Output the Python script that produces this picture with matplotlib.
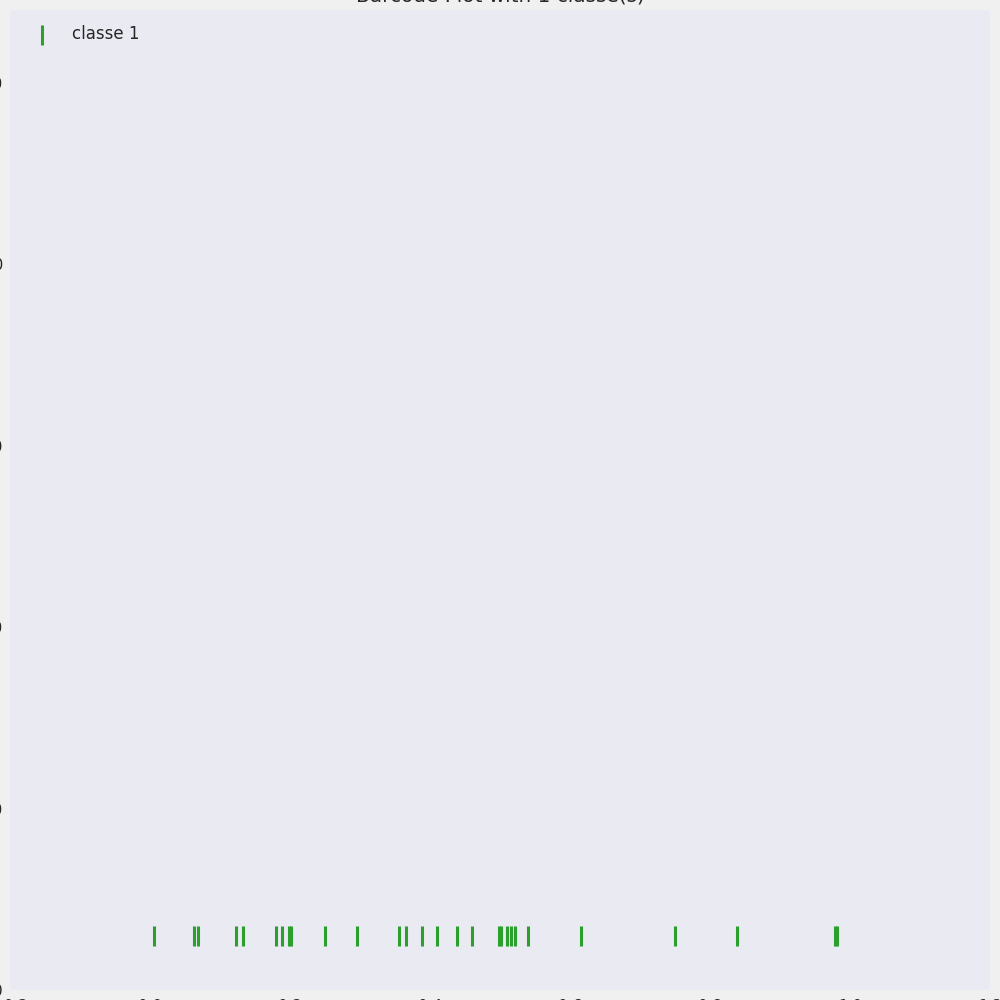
import numpy as np
import matplotlib
matplotlib.use("Agg")
import matplotlib.pyplot as plt
import seaborn as sns

# barcode positions of the single class
classe_1 = [0.006, 0.063, 0.069, 0.123, 0.133, 0.180, 0.188, 0.199, 0.202,
            0.250, 0.295, 0.355, 0.366, 0.389, 0.410, 0.438, 0.460, 0.498,
            0.501, 0.510, 0.515, 0.522, 0.540, 0.616, 0.750, 0.838, 0.979,
            0.982]
labels = ["classe 1"]
xticks = [-0.2, 0.0, 0.2, 0.4, 0.6, 0.8, 1.0, 1.2]
yticks = [0, 10, 20, 30, 40, 50]

sns.set_style("dark")
plt.rcParams['font.family'] = ['DejaVu Sans']

fig = plt.figure(figsize=(10, 10), dpi=100, facecolor='#f0f0f0')
ax = fig.add_axes([0.01, 0.01, 0.98, 0.98])
ax.set_facecolor('#eaeaf2')

ax.scatter(classe_1, np.full(len(classe_1), 3.0), marker='|', s=225,
           linewidths=2.2, color='#2ca02c', label=labels[0])

ax.set_xlim(-0.2, 1.2)
ax.set_ylim(0, 54)
ax.set_xticks(xticks)
ax.set_yticks(yticks)
ax.tick_params(labelsize=11, colors='#262626')
ax.tick_params(axis='x', pad=3.3)
ax.tick_params(axis='y', pad=1.5)
for s in ax.spines.values():
    s.set_visible(False)

ax.set_title("Barcode Plot with 1 classe(s)", fontsize=14.4, color='#262626')
ax.legend(loc='upper left', frameon=False, fontsize=12)

fig.savefig("out.png", dpi=100, facecolor=fig.get_facecolor())
